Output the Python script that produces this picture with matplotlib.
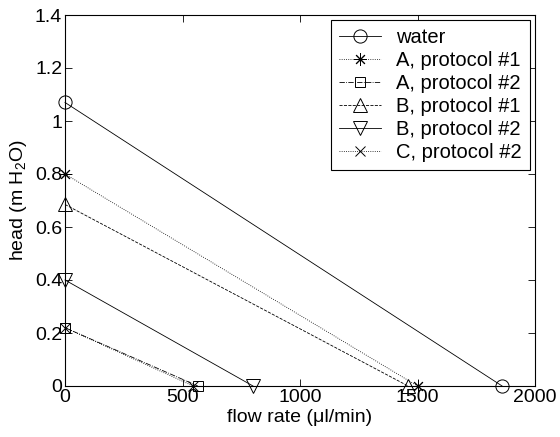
import matplotlib
matplotlib.use("Agg")
import matplotlib.pyplot as plt
from matplotlib.ticker import FuncFormatter

plt.rcParams['font.family'] = ['Liberation Sans', 'DejaVu Sans']
plt.rcParams['mathtext.fontset'] = 'custom'
plt.rcParams['mathtext.rm'] = 'Liberation Sans'

labels = ["water", "A, protocol #1", "A, protocol #2", "B, protocol #1", "B, protocol #2", "C, protocol #2"]
flow_max = [1860, 1500, 565, 1460, 800, 545]      # flow rate at zero head (µl/min)
head_max = [1.07, 0.80, 0.22, 0.685, 0.40, 0.22]  # head at zero flow (m H2O)
styles = ['-', ':', '-.', '--', '-', ':']
markers = ['o', (8, 2, 0), 's', '^', 'v', 'x']
msizes = [9.5, 9, 7, 9.5, 9.5, 7]

fig = plt.figure(figsize=(5.6, 4.37), dpi=100)
ax = fig.add_axes([65/560, 1-386/437, (535-65)/560, (386-15)/437])

for lab, q, h, ls, m, ms in zip(labels, flow_max, head_max, styles, markers, msizes):
    ax.plot([0, q], [h, 0], linestyle=ls, marker=m, color='black', linewidth=0.6,
            markersize=ms, markerfacecolor='none', markeredgewidth=0.7,
            label=lab, clip_on=False)

ax.set_xlim(0, 2000)
ax.set_ylim(0, 1.4)
ax.set_xticks([0, 500, 1000, 1500, 2000])
ax.set_yticks([0, 0.2, 0.4, 0.6, 0.8, 1.0, 1.2, 1.4])
fmt = FuncFormatter(lambda v, p: '%g' % v)
ax.xaxis.set_major_formatter(fmt)
ax.yaxis.set_major_formatter(fmt)
ax.tick_params(direction='in', top=True, right=True, labelsize=14, length=5, width=0.6, pad=2)
for s in ax.spines.values():
    s.set_linewidth(0.8)

ax.set_xlabel('flow rate (\u03bcl/min)', fontsize=14, labelpad=2)
ax.set_ylabel('head (m H$_2$O)', fontsize=14, labelpad=4)

leg = ax.legend(loc='upper right', fontsize=14.5, frameon=True, fancybox=False,
                edgecolor='black', framealpha=1, handlelength=2.1, borderpad=0.4,
                labelspacing=0.2, handletextpad=0.75, borderaxespad=0.25)
leg.get_frame().set_linewidth(0.8)

fig.savefig('out.png', dpi=100)
